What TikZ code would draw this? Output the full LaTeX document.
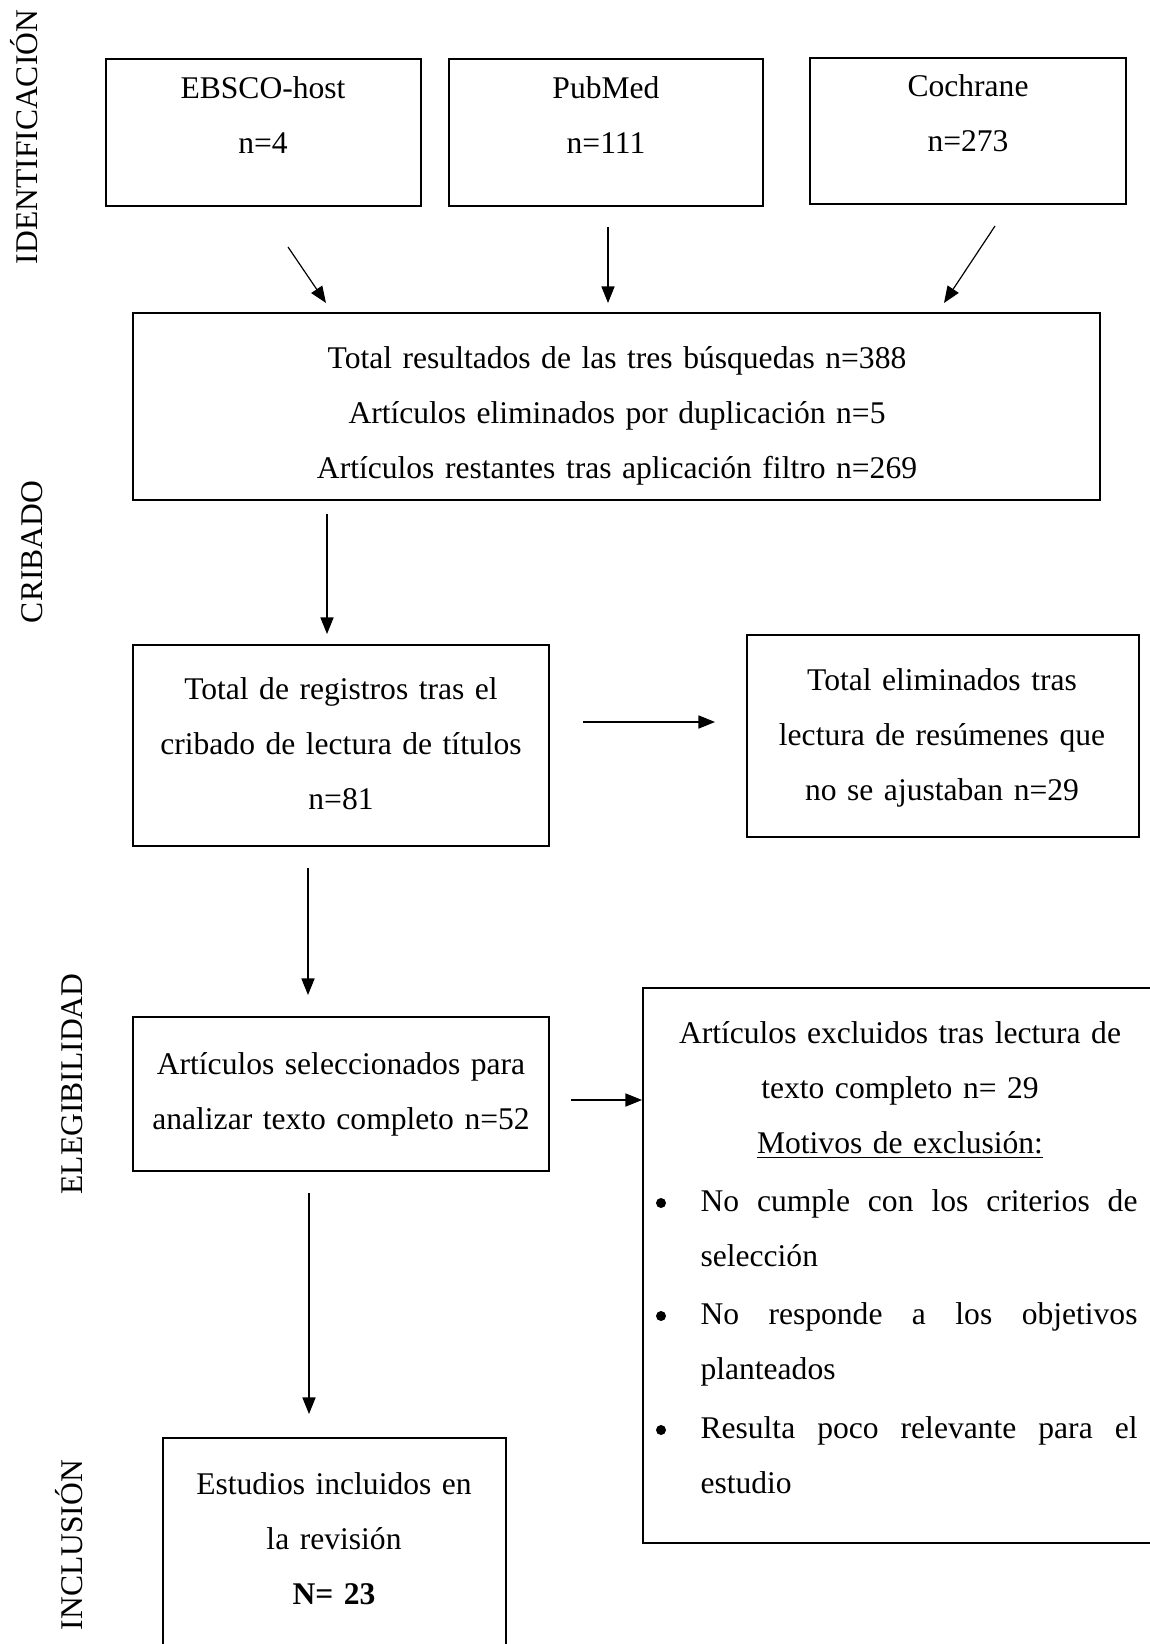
\documentclass[tikz,border=0pt]{standalone}
\usepackage{fontspec}
\setmainfont{Liberation Serif}
\usetikzlibrary{arrows.meta,fit}
\newdimen\pxu \pxu=0.38pt
\begin{document}
\begin{tikzpicture}[x=0.38pt,y=-0.38pt,
  box/.style={draw,line width=0.55pt,inner sep=0pt,rectangle},
  txt/.style={anchor=base,inner sep=0pt,align=center,font=\fontsize{12}{20.9}\selectfont},
  itm/.style={anchor=base west,inner sep=0pt,align=left,text width=437\pxu,font=\fontsize{12}{20.9}\selectfont},
  bul/.style={circle,fill,inner sep=0pt,minimum size=10\pxu},
  side/.style={anchor=base,inner sep=0pt,rotate=90,font=\fontsize{12}{14}\selectfont},
  arr/.style={line width=0.45pt,-{Triangle[length=6.3pt,width=5pt]}}]
\useasboundingbox (0,0) rectangle (1150,1644);
\clip (0,0) rectangle (1150,1644);
\fill[white] (0,0) rectangle (1150,1644);

% side labels
\node[side] (lid) at (37,137) {IDENTIFICACIÓN};
\node[side] (lcr) at (43,552) {CRIBADO};
\node[side] (lel) at (82,1084) {ELEGIBILIDAD};
\node[side] (lin) at (82,1545) {INCLUSIÓN};

% boxes
\node[box,fit={(106,59) (421,206)}] (ebsco) {};
\node[box,fit={(449,59) (763,206)}] (pubmed) {};
\node[box,fit={(810,58) (1126,204)}] (cochrane) {};
\node[box,fit={(133,313) (1100,500)}] (total) {};
\node[box,fit={(133,645) (549,846)}] (registros) {};
\node[box,fit={(747,635) (1139,837)}] (eliminados) {};
\node[box,fit={(133,1017) (549,1171)}] (seleccionados) {};
\node[box,fit={(643,988) (1250,1543)}] (excluidos) {};
\node[box,fit={(163,1438) (506,1750)}] (estudios) {};

% texts
\node[txt,text width=300\pxu] (tebsco) at (263,99) {EBSCO-host\\n=4};
\node[txt,text width=300\pxu] (tpubmed) at (606,99) {PubMed\\n=111};
\node[txt,text width=300\pxu] (tcochrane) at (968,97) {Cochrane\\n=273};
\node[txt,text width=950\pxu] (ttotal) at (617,369) {Total resultados de las tres búsquedas n=388\\Artículos eliminados por duplicación n=5\\Artículos restantes tras aplicación filtro n=269};
\node[txt,text width=410\pxu] (tregistros) at (341,699) {Total de registros tras el\\cribado de lectura de títulos\\n=81};
\node[txt,text width=390\pxu] (teliminados) at (942,690) {Total eliminados tras\\lectura de resúmenes que\\no se ajustaban n=29};
\node[txt,text width=410\pxu] (tseleccionados) at (341,1074) {Artículos seleccionados para\\analizar texto completo n=52};
\node[txt,text width=490\pxu] (texcluidos) at (900,1043) {Artículos excluidos tras lectura de\\texto completo n= 29\\\underline{Motivos de exclusión:}};
\node[bul] (b1) at (661,1203) {};
\node[bul] (b2) at (661,1316) {};
\node[bul] (b3) at (661,1430) {};
\node[itm] (i1) at (700,1211) {\hbox to 437\pxu{No\hfill cumple\hfill con\hfill los\hfill criterios\hfill de}\\selección};
\node[itm] (i2) at (700,1324) {\hbox to 437\pxu{No\hfill responde\hfill a\hfill los\hfill objetivos}\\planteados};
\node[itm] (i3) at (700,1438) {\hbox to 437\pxu{Resulta\hfill poco\hfill relevante\hfill para\hfill el}\\estudio};
\node[txt,text width=330\pxu] (testudios) at (334,1494) {Estudios incluidos en\\la revisión\\\textbf{N= 23}};

% connectors
\coordinate (a1s) at (288,247); \coordinate (a1e) at (326,303);
\coordinate (a2s) at (608,227); \coordinate (a2e) at (608,303);
\coordinate (a3s) at (995,226); \coordinate (a3e) at (944,303);
\coordinate (a4s) at (327,514); \coordinate (a4e) at (327,634);
\coordinate (a5s) at (583,722); \coordinate (a5e) at (715,722);
\coordinate (a6s) at (308,868); \coordinate (a6e) at (308,995);
\coordinate (a7s) at (571,1100); \coordinate (a7e) at (642,1100);
\coordinate (a8s) at (309,1193); \coordinate (a8e) at (309,1414);
\draw[arr] (a1s) -- (a1e);
\draw[arr] (a2s) -- (a2e);
\draw[arr] (a3s) -- (a3e);
\draw[arr] (a4s) -- (a4e);
\draw[arr] (a5s) -- (a5e);
\draw[arr] (a6s) -- (a6e);
\draw[arr] (a7s) -- (a7e);
\draw[arr] (a8s) -- (a8e);
\end{tikzpicture}
\end{document}
